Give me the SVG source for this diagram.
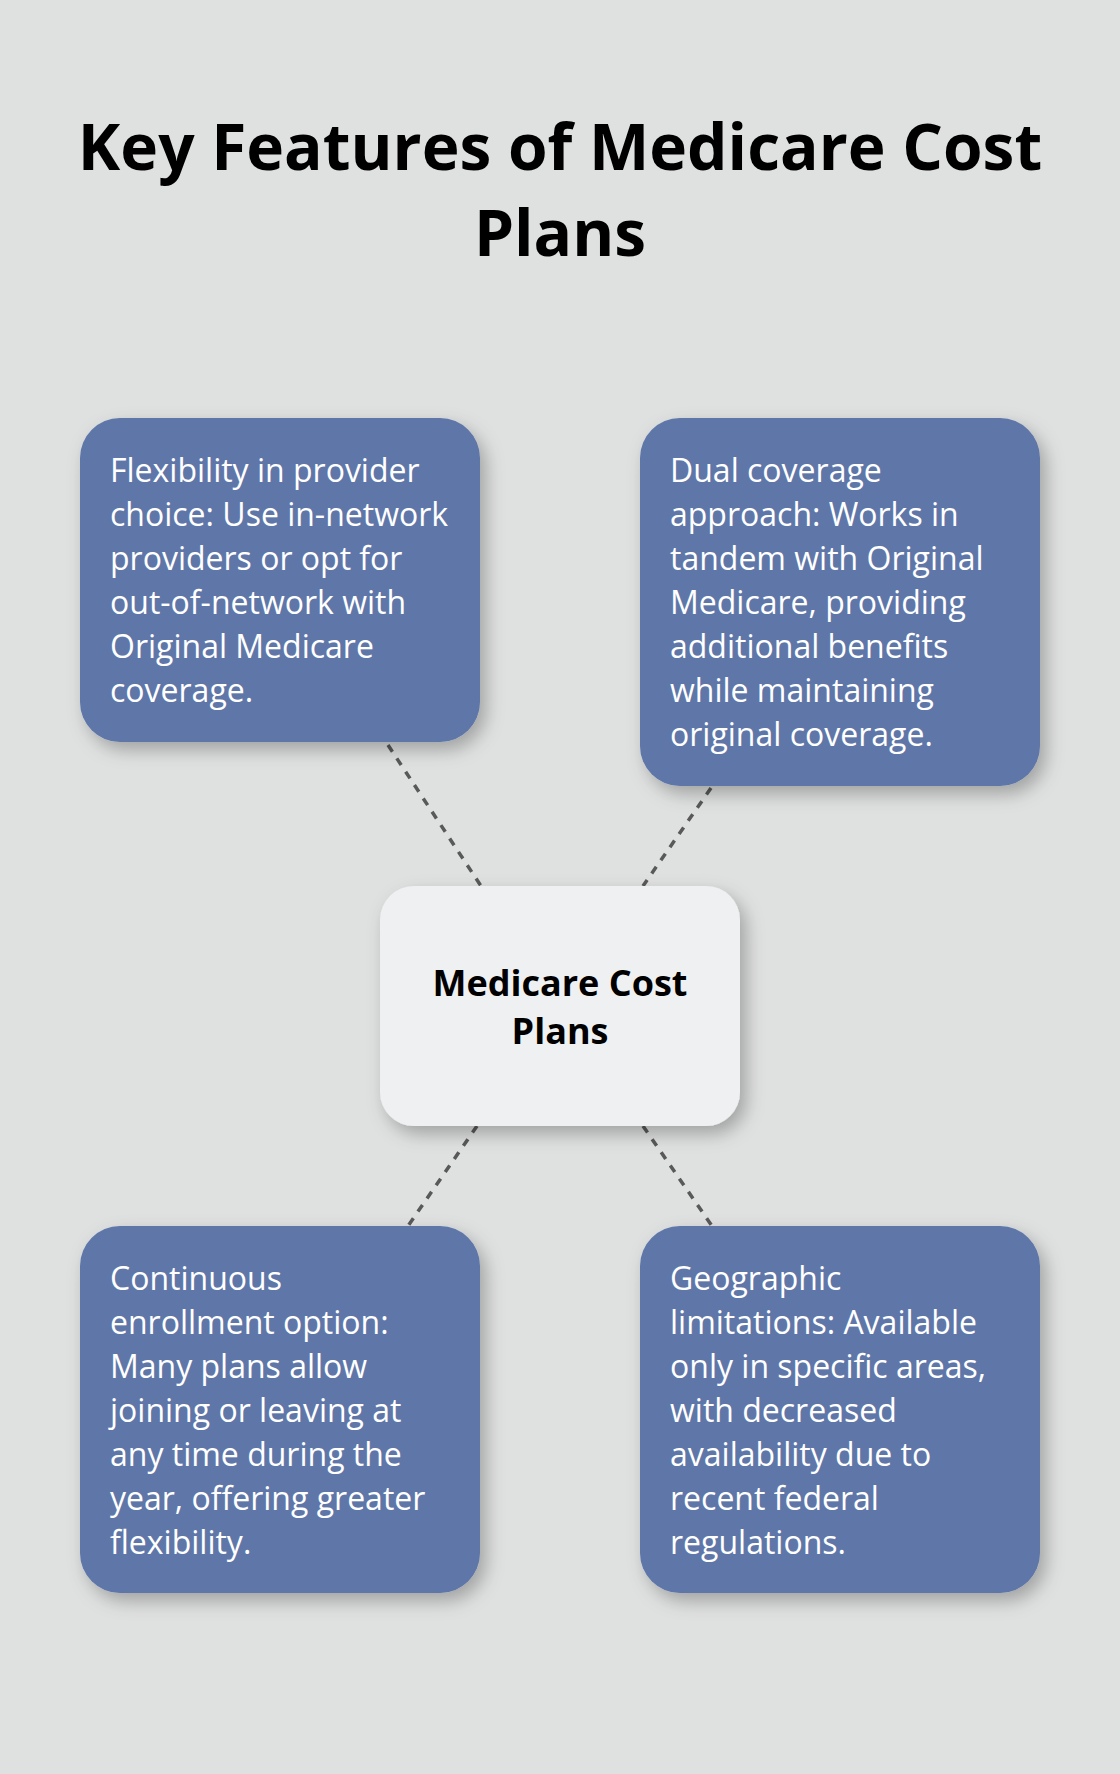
<svg xmlns="http://www.w3.org/2000/svg" width="1120" height="1774" viewBox="0 0 1120 1774">
<defs>
<filter id="sh" x="-20%" y="-20%" width="150%" height="150%">
<feDropShadow dx="6" dy="8" stdDeviation="9" flood-color="#000" flood-opacity="0.28"/>
</filter>
<style>
.bg{fill:#DFE1E0}
.card{fill:#5E77A8;filter:url(#sh)}
.hub{fill:#EFF0F2;filter:url(#sh)}
.t{font-family:"Open Sans","Noto Sans",sans-serif;font-size:32px;fill:#FFFFFF}
.title{font-family:"Open Sans","Noto Sans",sans-serif;font-size:64px;font-weight:700;fill:#000;text-anchor:middle}
.ht{font-family:"Open Sans","Noto Sans",sans-serif;font-size:36px;font-weight:700;fill:#000;text-anchor:middle}
.c{stroke:#595959;stroke-width:3.5;stroke-dasharray:8 8;fill:none}
</style>
</defs>
<rect class="bg" x="0" y="0" width="1120" height="1774"/>
<g id="title">
<text class="title" x="560" y="170">Key Features of Medicare Cost</text>
<text class="title" x="560" y="256">Plans</text>
</g>
<g id="connectors">
<line class="c" x1="388" y1="745" x2="481" y2="886"/>
<line class="c" x1="711" y1="788" x2="643" y2="886"/>
<line class="c" x1="477" y1="1126" x2="408" y2="1226"/>
<line class="c" x1="643" y1="1126" x2="712" y2="1226"/>
</g>
<g id="node-flexibility">
<rect class="card" x="80" y="418" width="400" height="324" rx="40"/>
<text class="t" x="110" y="482">Flexibility in provider</text>
<text class="t" x="110" y="526">choice: Use in-network</text>
<text class="t" x="110" y="570">providers or opt for</text>
<text class="t" x="110" y="614">out-of-network with</text>
<text class="t" x="110" y="658">Original Medicare</text>
<text class="t" x="110" y="702">coverage.</text>
</g>
<g id="node-dual">
<rect class="card" x="640" y="418" width="400" height="368" rx="40"/>
<text class="t" x="670" y="482">Dual coverage</text>
<text class="t" x="670" y="526">approach: Works in</text>
<text class="t" x="670" y="570">tandem with Original</text>
<text class="t" x="670" y="614">Medicare, providing</text>
<text class="t" x="670" y="658">additional benefits</text>
<text class="t" x="670" y="702">while maintaining</text>
<text class="t" x="670" y="746">original coverage.</text>
</g>
<g id="node-center">
<rect class="hub" x="380" y="886" width="360" height="240" rx="34"/>
<text class="ht" x="560" y="996">Medicare Cost</text>
<text class="ht" x="560" y="1044">Plans</text>
</g>
<g id="node-continuous">
<rect class="card" x="80" y="1226" width="400" height="367" rx="40"/>
<text class="t" x="110" y="1290">Continuous</text>
<text class="t" x="110" y="1334">enrollment option:</text>
<text class="t" x="110" y="1378">Many plans allow</text>
<text class="t" x="110" y="1422">joining or leaving at</text>
<text class="t" x="110" y="1466">any time during the</text>
<text class="t" x="110" y="1510">year, offering greater</text>
<text class="t" x="110" y="1554">flexibility.</text>
</g>
<g id="node-geographic">
<rect class="card" x="640" y="1226" width="400" height="367" rx="40"/>
<text class="t" x="670" y="1290">Geographic</text>
<text class="t" x="670" y="1334">limitations: Available</text>
<text class="t" x="670" y="1378">only in specific areas,</text>
<text class="t" x="670" y="1422">with decreased</text>
<text class="t" x="670" y="1466">availability due to</text>
<text class="t" x="670" y="1510">recent federal</text>
<text class="t" x="670" y="1554">regulations.</text>
</g>
</svg>
